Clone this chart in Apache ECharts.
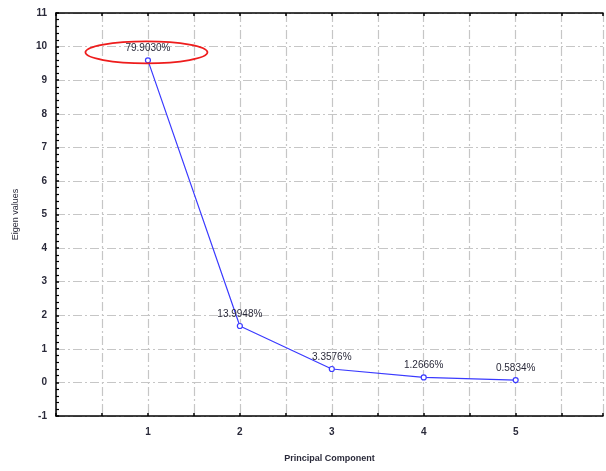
<!DOCTYPE html>
<html><head><meta charset="utf-8">
<script src="https://cdn.jsdelivr.net/npm/echarts@6/dist/echarts.min.js"></script>
<style>html,body{margin:0;padding:0;background:#fff}#c{width:606px;height:471px}</style>
</head><body><div id="c"></div>
<script>
const components = [1, 2, 3, 4, 5];
const eigenvalues = [9.59, 1.68, 0.40, 0.15, 0.07];
const percentLabels = ['79.9030%', '13.9948%', '3.3576%', '1.2666%', '0.5834%'];
const yTicks = [-1, 0, 1, 2, 3, 4, 5, 6, 7, 8, 9, 10, 11];
const xLabelTicks = [1, 2, 3, 4, 5];

const chart = echarts.init(document.getElementById('c'));
const font = '"Liberation Sans", Arial, sans-serif';
const gridLine = { color: '#c6c6c6', width: 1.2, type: [9, 3, 2, 3] };
const data = components.map((c, i) => ({ value: [c, eigenvalues[i]], label: { formatter: percentLabels[i] } }));

chart.setOption({
  animation: false,
  grid: { left: 56, top: 13, right: 0, height: 403, containLabel: false },
  xAxis: [{
    type: 'value', min: 0, max: 5.95, interval: 0.5, position: 'bottom',
    name: 'Principal Component', nameLocation: 'middle', nameGap: 38,
    nameTextStyle: { fontFamily: font, fontSize: 9, fontWeight: 'bold', color: '#2a2a3a' },
    axisLine: { onZero: false, lineStyle: { color: '#000', width: 1.5 } },
    axisTick: { inside: true, length: 3, lineStyle: { color: '#000', width: 1.5 } },
    axisLabel: { margin: 11, fontFamily: font, fontSize: 10, fontWeight: 'bold', color: '#2a2a3a',
      formatter: v => xLabelTicks.indexOf(v) >= 0 ? String(v) : '' },
    splitLine: { show: true, lineStyle: gridLine }
  }, {
    type: 'value', min: 0, max: 5.95, interval: 0.5, position: 'top',
    axisLine: { onZero: false, lineStyle: { color: '#000', width: 1.5 } },
    axisTick: { inside: true, length: 3, lineStyle: { color: '#000', width: 1.5 } },
    axisLabel: { show: false }, splitLine: { show: false }
  }],
  yAxis: [{
    type: 'value', min: yTicks[0], max: yTicks[yTicks.length - 1], interval: 1,
    name: 'Eigen values', nameLocation: 'middle', nameGap: 36, nameRotate: 90,
    nameTextStyle: { fontFamily: font, fontSize: 9, color: '#2a2a3a' },
    axisLine: { onZero: false, lineStyle: { color: '#000', width: 1.5 } },
    axisTick: { inside: true, length: 3, lineStyle: { color: '#000', width: 1.5 } },
    minorTick: { show: true, splitNumber: 5, length: 3, lineStyle: { color: '#000', width: 1.2 } },
    axisLabel: { margin: 9, fontFamily: font, fontSize: 10, fontWeight: 'bold', color: '#2a2a3a' },
    splitLine: { show: true, lineStyle: gridLine }
  }],
  series: [{
    type: 'line', data: data, xAxisIndex: 0, yAxisIndex: 0,
    symbol: 'circle', symbolSize: 5,
    lineStyle: { color: '#3a3aff', width: 1.2 },
    itemStyle: { color: '#fff', borderColor: '#3a3aff', borderWidth: 1.2 },
    label: { show: true, position: 'top', distance: 4, fontFamily: font, fontSize: 10, color: '#2a2a3a' },
    z: 5
  }]
});

const p = chart.convertToPixel({ xAxisIndex: 0, yAxisIndex: 0 }, [components[0], eigenvalues[0]]);
chart.setOption({
  graphic: [{
    type: 'ellipse', shape: { cx: p[0] - 1.5, cy: p[1] - 8, rx: 61, ry: 11 },
    style: { fill: 'none', stroke: '#ee1c1c', lineWidth: 1.8 }, z: 10
  }]
});
</script></body></html>
